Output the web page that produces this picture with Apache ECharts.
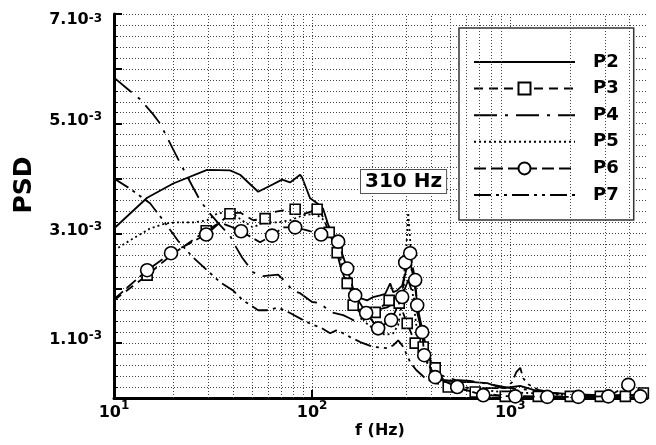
<!DOCTYPE html>
<html><head><meta charset="utf-8">
<script src="https://cdn.jsdelivr.net/npm/echarts@6/dist/echarts.min.js"></script>
<style>html,body{margin:0;padding:0;background:#fff}#c{width:656px;height:445px}</style>
</head><body><div id="c"></div><script>
// Axis settings
const xMin = 10, xMax = 4900;
const xLabelTicks = [10, 100, 1000];
const xMinorGrid = [20,30,40,50,60,70,80,90,200,300,400,500,600,700,800,900,2000,3000,4000];
const yLabelTicks = [1, 3, 5, 7]; // x 10^-3
const PSD_UNIT = 1e-3;

// Series (frequency in Hz, PSD in units of 10^-3)
const p2F = [10,14.7,19.9,29.5,38.5,43.3,53.4,61.4,70.5,77.4,87,89,97.7,106,113.6,123.3,130.7,138.5,146.8,159.2,174.8,189.6,203.3,220.5,233.7,247.7,256.5,268.7,284.8,298.4,312.6,327,343.1,359.4,385.4,418.1,458.9,578.9,650.4,765.4,911.3,1123,1417,2009,2848,4900];
const p2V = [3.09,3.65,3.91,4.16,4.15,4.07,3.76,3.87,3.98,3.93,4.07,4.02,3.64,3.55,3.45,3.05,2.78,2.42,2.15,1.93,1.82,1.78,1.84,1.87,1.9,2.09,1.93,1.96,2.05,2.33,2.47,2.15,1.6,1.24,0.78,0.51,0.33,0.29,0.29,0.27,0.18,0.22,0.11,0.07,0.05,0.05];

const p3F = [10,14.7,19.4,29.2,34.3,38.5,43.3,50.4,57.9,61.4,71.4,82.1,92.2,106,112.3,121.9,133.8,150.3,161.1,174.8,208.1,244.8,275.1,301.9,331.3,363.6,418.1,486.4,665.6,943.4,1385,2009,2848,3810,4696,4900];
const p3V = [1.78,2.24,2.6,3.05,3.2,3.36,3.38,3.24,3.27,3.38,3.42,3.44,3.36,3.44,3.33,3.02,2.65,2.09,1.69,1.6,1.56,1.78,1.73,1.36,1.0,0.93,0.55,0.2,0.11,0.03,0.03,0.03,0.03,0.03,0.09,0.05];
const p3Mark = [0,1,0,1,0,1,0,0,1,0,0,1,0,1,0,1,1,1,1,0,1,1,1,1,1,1,1,1,1,1,1,1,1,1,1,0];

const p4F = [10,12,13.5,15.7,17.1,19.2,21.5,24.8,27.2,30.5,34.3,38.5,41.3,44.3,50.4,56.6,67.3,74.8,79.3,87,100,109.7,116.3,126.2,143.4,155.6,168.8,185.2,208.1,239.2,271.9,291.5,305.4,323.7,351,372.2,403.7,443.2,527.6,628.1,792.6,1000,1262,1788,2848,4900];
const p4V = [5.84,5.6,5.45,5.18,5.0,4.64,4.29,3.87,3.6,3.36,3.15,2.96,2.75,2.56,2.29,2.22,2.25,2.09,1.96,1.91,1.75,1.73,1.65,1.56,1.51,1.45,1.38,1.5,1.6,1.65,1.78,1.96,2.15,1.87,1.33,0.87,0.6,0.42,0.33,0.31,0.25,0.18,0.15,0.07,0.05,0.05];

const p5F = [10,12,15.2,18.1,20.8,25.1,29.5,33.1,35.5,40.8,45.9,50.4,56.6,66.6,77.4,90.1,103.6,112.3,119.1,127.7,138.5,150.3,164.9,185.2,208.1,233.7,256.5,271.9,288.2,298.4,305.4,312.6,323.7,343.1,372.2,418.1,497.7,628.1,890,1262,2009,4900];
const p5V = [2.69,2.87,3.09,3.18,3.2,3.2,3.24,3.36,3.38,3.33,3.2,3.11,3.2,3.2,3.24,3.33,3.36,3.27,3.2,2.96,2.55,2.15,1.69,1.38,1.24,1.15,1.18,1.33,1.87,2.69,3.38,2.87,1.78,1.05,0.69,0.42,0.24,0.18,0.11,0.09,0.05,0.04];

const p6F = [10,14.7,19.4,29.2,34.3,38.5,43.8,50.4,54.6,62.8,71.4,82.1,95.5,111,123.3,135.3,150.3,164.9,187.4,215.4,250.6,284.8,294.9,312.6,331.3,339.1,359.4,367.9,418.1,539.9,730.6,1060,1538,2205,3126,3944,4536,4900];
const p6V = [1.8,2.33,2.64,2.98,3.2,3.13,3.04,2.91,2.84,2.96,3.11,3.11,3.05,2.98,2.95,2.85,2.36,1.87,1.55,1.27,1.42,1.84,2.47,2.64,2.15,1.69,1.2,0.78,0.38,0.2,0.05,0.03,0.02,0.02,0.03,0.24,0.03,0.03];
const p6Mark = [0,1,1,1,0,0,1,0,0,1,0,1,0,1,0,1,1,1,1,1,1,1,1,1,1,1,1,1,1,1,1,1,1,1,1,1,1,0];

const p7F = [10,12,15.2,17.7,21,25.1,29.5,34.3,39.9,44.8,53.4,59.3,67.3,77.4,90.1,101.2,109.7,123.3,133.8,155.6,174.8,203.3,239.2,256.5,271.9,284.8,301.9,312.6,335.2,372.2,418.1,497.7,628.1,943.4,1023,1072,1123,1163,1233,1385,1788,2848,4900];
const p7V = [4.0,3.82,3.55,3.24,2.87,2.56,2.33,2.11,1.96,1.78,1.6,1.6,1.65,1.55,1.42,1.33,1.29,1.18,1.24,1.11,1.02,0.93,0.91,0.96,1.05,0.96,0.78,0.65,0.51,0.36,0.27,0.22,0.18,0.18,0.29,0.47,0.55,0.36,0.25,0.15,0.07,0.04,0.04];

const legendNames = ['P2','P3','P4','P5','P6','P7'];
const markedSeries = ['P3','P6'];
const annotationText = '310 Hz';

function build(F, V, M) {
  return F.map((f, i) => {
    const item = { value: [f, V[i] * PSD_UNIT] };
    if (M && !M[i]) item.symbol = 'none';
    return item;
  });
}

const FONT = 'DejaVu Sans';
const gridStyle = { color: '#444', width: 1, type: [1, 2] };
const base = { fontFamily: FONT, fontWeight: 'bold', color: '#000' };
const rich = {
  m: Object.assign({ fontSize: 16, lineHeight: 26 }, base),
  s: Object.assign({ fontSize: 12, lineHeight: 12, verticalAlign: 'top' }, base),
  my: Object.assign({ fontSize: 16, lineHeight: 26, padding: [0,0,6,0] }, base),
  sy: Object.assign({ fontSize: 12, lineHeight: 12, verticalAlign: 'top' }, base),
  m7: Object.assign({ fontSize: 16, lineHeight: 26, padding: [12,0,0,0] }, base),
  s7: Object.assign({ fontSize: 12, lineHeight: 12, verticalAlign: 'top', padding: [12,0,0,0] }, base)
};

function lineSeries(name, F, V, dash) {
  return {
    name, type: 'line', data: build(F, V, null), symbol: 'none', showSymbol: false,
    lineStyle: { color: '#000', width: 1.8, type: dash },
    itemStyle: { color: '#000' }, z: 3, silent: true
  };
}

const hiddenIcon = { color: 'rgba(0,0,0,0)', borderColor: 'rgba(0,0,0,0)', borderWidth: 0 };

const chart = echarts.init(document.getElementById('c'), null, { renderer: 'canvas' });
chart.setOption({
  animation: false,
  backgroundColor: '#fff',
  grid: { left: 114, right: 9, top: 13, bottom: 47, containLabel: false },
  xAxis: {
    type: 'log', logBase: 10, min: xMin, max: xMax,
    axisLine: { show: true, onZero: false, lineStyle: { color: '#000', width: 3 } },
    axisTick: { show: true, inside: true, length: 8, customValues: xLabelTicks, lineStyle: { color: '#000', width: 2 } },
    splitLine: { show: true, lineStyle: gridStyle },
    axisLabel: {
      show: true, margin: 2, customValues: xLabelTicks,
      formatter: (v) => '{m|10}{s|' + Math.round(Math.log10(v)) + '}',
      rich
    }
  },
  yAxis: {
    type: 'value', min: 0, max: 7 * PSD_UNIT, interval: PSD_UNIT,
    axisLine: { show: true, lineStyle: { color: '#000', width: 3 } },
    axisTick: { show: true, inside: true, length: 8, lineStyle: { color: '#000', width: 2 } },
    minorTick: { show: true, splitNumber: 5, length: 4, lineStyle: { color: '#000', width: 1 } },
    splitLine: { show: true, lineStyle: gridStyle },
    minorSplitLine: { show: true, lineStyle: gridStyle },
    axisLabel: {
      margin: 12,
      formatter: (v) => {
        const n = Math.round(v / PSD_UNIT);
        if (yLabelTicks.indexOf(n) < 0) return '';
        if (n === 7) return '{m7|' + n + '.10}{s7|-3}';
        return '{my|' + n + '.10}{sy|-3}';
      },
      rich
    }
  },
  legend: {
    orient: 'vertical', left: 459, top: 28,
    data: legendNames.map(n => markedSeries.indexOf(n) >= 0 ? { name: n } : { name: n, itemStyle: hiddenIcon }),
    selectedMode: false,
    itemWidth: 101, itemHeight: 15, itemGap: 8.6,
    padding: [25, 15, 16, 14],
    backgroundColor: '#fff', borderColor: '#333', borderWidth: 1.5, borderRadius: 0,
    textStyle: { fontFamily: FONT, fontWeight: 'bold', fontSize: 18, color: '#000', padding: [0,0,0,13] }
  },
  graphic: [
    { type: 'text', x: 24, y: 185, rotation: Math.PI / 2,
      style: { text: 'PSD', font: 'bold 25px "DejaVu Sans"', fill: '#000', align: 'center', verticalAlign: 'middle' } },
    { type: 'text', x: 380, y: 431,
      style: { text: 'f (Hz)', font: 'bold 16px "DejaVu Sans"', fill: '#000', align: 'center', verticalAlign: 'middle' } },
    { type: 'text', x: 361, y: 170, z: 100,
      style: { text: annotationText, font: 'bold 20px "DejaVu Sans"', fill: '#000', backgroundColor: '#fff',
               borderColor: '#555', borderWidth: 1, padding: [2, 4, 1, 4] } }
  ],
  series: [
    { name: '_grid', type: 'line', data: [], silent: true, z: 1,
      markLine: { silent: true, symbol: ['none','none'], label: { show: false }, animation: false,
                  lineStyle: gridStyle, emphasis: { disabled: true },
                  data: xMinorGrid.map(v => ({ xAxis: v })) } },
    lineSeries('P2', p2F, p2V, 'solid'),
    lineSeries('P4', p4F, p4V, [23, 8, 3, 8]),
    lineSeries('P5', p5F, p5V, [2, 3]),
    lineSeries('P7', p7F, p7V, [17, 5, 3, 5, 3, 5]),
    { name: 'P3', type: 'line', data: build(p3F, p3V, p3Mark), symbol: 'rect', symbolSize: 10, showSymbol: true,
      lineStyle: { color: '#000', width: 1.8, type: [9, 6] },
      itemStyle: { color: '#fff', borderColor: '#000', borderWidth: 1.6 }, z: 4, silent: true },
    { name: 'P6', type: 'line', data: build(p6F, p6V, p6Mark), symbol: 'circle', symbolSize: 13, showSymbol: true,
      lineStyle: { color: '#000', width: 1.8, type: [12, 5] },
      itemStyle: { color: '#fff', borderColor: '#000', borderWidth: 1.6 }, z: 5, silent: true }
  ]
});
</script></body></html>
